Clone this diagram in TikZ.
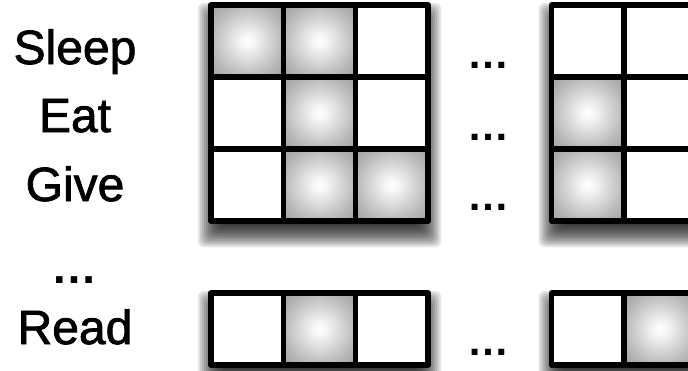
\documentclass[tikz,border=0pt]{standalone}
\usepackage{fontspec}
\setmainfont{Liberation Sans}
\newfontfamily\labfont[FakeBold=1.6]{Liberation Sans}
\pgfdeclareradialshading{cellshade}{\pgfpoint{0bp}{0bp}}{color(0bp)=(white); color(4bp)=(white!97!black); color(25bp)=(black!28); color(50bp)=(black!52)}
\newcommand{\dropshade}[4]{%
  \foreach \k in {0,...,13}{%
    \fill[black, opacity=0.11, rounded corners=6pt]
      ({#1-13+2*\k},{#2-2+2*\k}) rectangle ({#3+13-2*\k},{#4+26-2*\k});
  }%
}
\tikzset{
  cell/.style={draw=black, line width=5.2pt, fill=white, minimum width=72.33pt, minimum height=72pt, inner sep=0pt, line join=round},
  shcell/.style={cell, shading=cellshade},
  lab/.style={font=\labfont\fontsize{48}{54}\selectfont, anchor=base, inner sep=0pt},
  mdots/.style={font=\bfseries\fontsize{42}{48}\selectfont, anchor=base, inner sep=0pt}
}
\begin{document}
\begin{tikzpicture}[x=1pt, y=-1pt]
\clip (0,0) rectangle (688,370);
\fill[white] (0,0) rectangle (688,370);
% shadows
\dropshade{211}{5}{428}{221}
\dropshade{551.7}{5}{769}{221}
\dropshade{211}{293}{428}{365}
\dropshade{551.7}{293}{769}{365}
% grid 1
\node[shcell] (a11) at (247.2,41) {};
\node[shcell] (a12) at (319.5,41) {};
\node[cell]   (a13) at (391.8,41) {};
\node[cell]   (a21) at (247.2,113) {};
\node[shcell] (a22) at (319.5,113) {};
\node[cell]   (a23) at (391.8,113) {};
\node[cell]   (a31) at (247.2,185) {};
\node[shcell] (a32) at (319.5,185) {};
\node[shcell] (a33) at (391.8,185) {};
% grid 2
\node[cell]   (b11) at (587.9,41) {};
\node[cell]   (b12) at (660.2,41) {};
\node[shcell] (b21) at (587.9,113) {};
\node[cell]   (b22) at (660.2,113) {};
\node[shcell] (b31) at (587.9,185) {};
\node[cell]   (b32) at (660.2,185) {};
% bottom rows
\node[cell]   (c1) at (247.2,329) {};
\node[shcell] (c2) at (319.5,329) {};
\node[cell]   (c3) at (391.8,329) {};
\node[cell]   (d1) at (587.9,329) {};
\node[shcell] (d2) at (660.2,329) {};
% labels
\node[lab] (sleep) at (75,64) {Sleep};
\node[lab] (eat) at (75,132) {Eat};
\node[lab] (give) at (75,201) {Give};
\node[mdots, font=\bfseries\fontsize{46}{52}\selectfont] (ldots) at (74,283) {…};
\node[lab] (read) at (75,344) {Read};
% middle dots
\node[mdots] (m1) at (488,68) {…};
\node[mdots] (m2) at (488,140) {…};
\node[mdots] (m3) at (488,210) {…};
\node[mdots] (m4) at (488,355) {…};
\end{tikzpicture}
\end{document}
